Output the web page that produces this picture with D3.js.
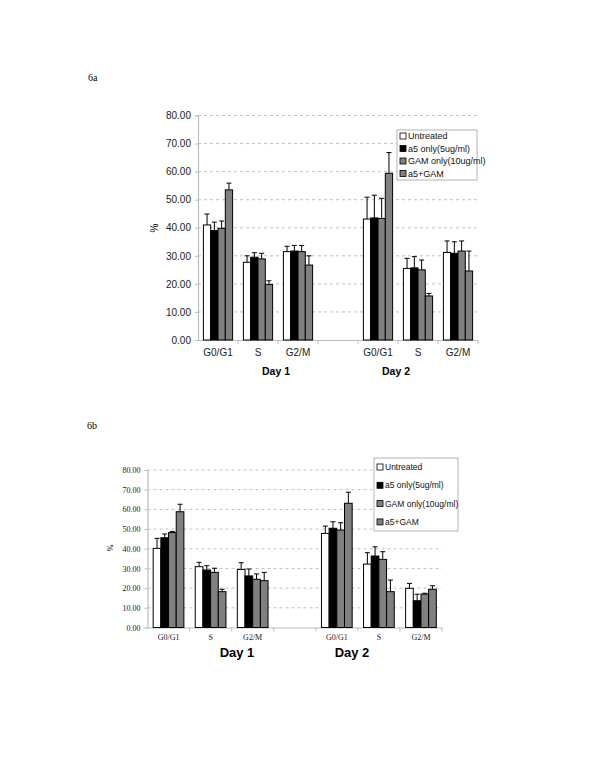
<!DOCTYPE html>
<html><head><meta charset="utf-8">
<script src="https://cdn.jsdelivr.net/npm/d3@7"></script>
<style>body{margin:0;background:#fff}svg{display:block}</style>
</head><body>
<svg id="c" width="600" height="776"></svg>
<script>
// ---- data ----
const slots = ["d1-G0/G1","d1-S","d1-G2/M","gap","d2-G0/G1","d2-S","d2-G2/M"];
const tickLabels = ["G0/G1","S","G2/M","","G0/G1","S","G2/M"];
const groups = ["d1-G0/G1","d1-S","d1-G2/M","d2-G0/G1","d2-S","d2-G2/M"];
const series = ["Untreated","a5 only(5ug/ml)","GAM only(10ug/ml)","a5+GAM"];
const dayLabels = ["Day 1","Day 2"];
const yTicks = [0,10,20,30,40,50,60,70,80];

// 6a
const a_untreated = [41.0, 27.7, 31.5, 43.1, 25.5, 31.2];
const a_untreatedErr = [3.9, 2.3, 1.9, 7.8, 3.6, 4.1];
const a_a5 = [39.0, 29.5, 31.7, 43.5, 25.7, 30.9];
const a_a5Err = [3.0, 1.6, 2.0, 8.1, 4.0, 4.1];
const a_gam = [39.8, 28.9, 31.5, 43.3, 25.0, 31.7];
const a_gamErr = [2.6, 2.0, 2.2, 7.2, 3.5, 3.6];
const a_combo = [53.5, 19.8, 26.7, 59.4, 15.7, 24.6];
const a_comboErr = [2.4, 1.3, 3.3, 7.4, 0.9, 7.1];

// 6b
const b_untreated = [40.2, 30.9, 29.5, 47.8, 32.2, 19.9];
const b_untreatedErr = [5.1, 2.2, 3.4, 3.7, 5.8, 2.5];
const b_a5 = [45.6, 29.2, 26.2, 50.4, 36.3, 13.6];
const b_a5Err = [1.9, 2.2, 3.5, 3.3, 4.7, 3.3];
const b_gam = [48.2, 28.0, 24.5, 49.5, 34.6, 17.0];
const b_gamErr = [0.6, 2.1, 2.7, 3.7, 3.9, 0.4];
const b_combo = [58.8, 18.2, 23.8, 63.1, 18.2, 19.4];
const b_comboErr = [3.8, 1.2, 4.2, 5.6, 5.9, 1.8];

const colors = ["#ffffff","#000000","#808080","#808080"];

const svg = d3.select("#c");
svg.append("rect").attr("width",600).attr("height",776).attr("fill","#fff");

function drawChart(o){
  const g = svg.append("g");
  const x = d3.scaleBand().domain(slots).range([o.x0,o.x1]).paddingInner(0).paddingOuter(0);
  const y = d3.scaleLinear().domain([0,80]).range([o.y0,o.y1]);
  const inner = d3.scaleBand().domain(series).range([0,x.bandwidth()*o.groupFrac]);
  const off = x.bandwidth()*(1-o.groupFrac)/2;

  // gridlines
  g.append("g").selectAll("line").data(yTicks.filter(t=>t>0)).join("line")
    .attr("x1",o.x0).attr("x2",o.x1).attr("y1",d=>y(d)).attr("y2",d=>y(d))
    .attr("stroke","#b0b0b0").attr("stroke-width",0.8).attr("stroke-dasharray","3,3");

  // y axis
  const ya = d3.axisLeft(y).tickValues(yTicks).tickFormat(d3.format(".2f")).tickSize(3).tickPadding(4);
  const yg = g.append("g").attr("transform",`translate(${o.x0},0)`).call(ya);
  yg.select(".domain").attr("stroke","#bdbdbd").attr("stroke-width",1.2);
  yg.selectAll(".tick line").attr("stroke","#bdbdbd");
  yg.selectAll("text").attr("font-family",o.tickFont).attr("font-size",o.tickSize).attr("fill","#222");

  // x axis
  const xa = d3.axisBottom(x).tickFormat((d,i)=>tickLabels[i]).tickSize(0).tickPadding(o.xPad);
  const xg = g.append("g").attr("transform",`translate(0,${o.y0})`).call(xa);
  xg.select(".domain").attr("stroke","#bdbdbd").attr("stroke-width",1.2);
  xg.selectAll("text").attr("font-family",o.xFont).attr("font-size",o.xSize).attr("fill","#222");
  // boundary tick marks
  g.append("g").selectAll("line").data(slots.slice(1).concat(["end"])).join("line")
    .attr("x1",(d,i)=>o.x0+x.bandwidth()*(i+1)).attr("x2",(d,i)=>o.x0+x.bandwidth()*(i+1))
    .attr("y1",o.y0).attr("y2",o.y0+4).attr("stroke","#bdbdbd");

  // bars
  const vals = o.vals, errs = o.errs;
  const data = [];
  groups.forEach((gr,gi)=>series.forEach((s,si)=>data.push({gr,s,si,v:vals[si][gi],e:errs[si][gi]})));
  const bx = d=>x(d.gr)+off+inner(d.s);
  const bars = g.append("g");
  // error bars behind
  const eb = g.append("g");
  data.forEach(d=>{
    const cx = bx(d)+inner.bandwidth()/2;
    eb.append("line").attr("x1",cx).attr("x2",cx).attr("y1",y(d.v)).attr("y2",y(d.v+d.e)).attr("stroke","#000").attr("stroke-width",1);
    eb.append("line").attr("x1",cx-2.5).attr("x2",cx+2.5).attr("y1",y(d.v+d.e)).attr("y2",y(d.v+d.e)).attr("stroke","#000").attr("stroke-width",1);
  });
  g.append("g").selectAll("rect").data(data).join("rect")
    .attr("x",bx).attr("width",inner.bandwidth()).attr("y",d=>y(d.v)).attr("height",d=>o.y0-y(d.v))
    .attr("fill",d=>colors[d.si]).attr("stroke","#000").attr("stroke-width",1);

  // y label
  g.append("text").attr("transform",`translate(${o.pctX},${o.pctY}) rotate(-90)`)
    .attr("text-anchor","middle").attr("font-family",o.tickFont).attr("font-size",o.tickSize).text("%");

  // day labels
  dayLabels.forEach((t,i)=>g.append("text").attr("x",o.dayX[i]).attr("y",o.dayY).attr("text-anchor","middle")
    .attr("font-family","Liberation Sans, Arial, sans-serif").attr("font-weight","bold").attr("font-size",o.daySize).text(t));

  // legend
  const L = o.legend;
  g.append("rect").attr("x",L.x).attr("y",L.y).attr("width",L.w).attr("height",L.h).attr("fill","#fff").attr("stroke","#a0a0a0").attr("stroke-width",0.8);
  series.forEach((s,i)=>{
    const yy = L.y + L.first + i*L.step;
    g.append("rect").attr("x",L.x+L.sx).attr("y",yy-L.sw/2).attr("width",L.sw).attr("height",L.sw).attr("fill",colors[i]).attr("stroke","#000").attr("stroke-width",0.8);
    g.append("text").attr("x",L.x+L.sx+L.sw+2).attr("y",yy).attr("dy","0.35em").attr("font-family","Liberation Sans, Arial, sans-serif").attr("font-size",L.fs).attr("fill","#111").text(s);
  });

  // panel label
  svg.append("text").attr("x",o.lab[0]).attr("y",o.lab[1]).attr("font-family","Liberation Serif, Times New Roman, serif").attr("font-size",10).text(o.name);
}

drawChart({
  name:"6a", lab:[88,81],
  x0:198, x1:478, y0:340, y1:115.5, groupFrac:0.73,
  tickFont:"Liberation Sans, Arial, sans-serif", tickSize:10,
  xFont:"Liberation Sans, Arial, sans-serif", xSize:10, xPad:9,
  vals:[a_untreated,a_a5,a_gam,a_combo], errs:[a_untreatedErr,a_a5Err,a_gamErr,a_comboErr],
  pctX:158, pctY:228, dayX:[276,396], dayY:375, daySize:10.5,
  legend:{x:397,y:130,w:80,h:50,first:6,step:12.5,sx:3,sw:6,fs:9}
});

drawChart({
  name:"6b", lab:[87,429],
  x0:147.5, x1:442, y0:627.5, y1:470, groupFrac:0.73,
  tickFont:"Liberation Serif, Times New Roman, serif", tickSize:8,
  xFont:"Liberation Serif, Times New Roman, serif", xSize:8, xPad:7,
  vals:[b_untreated,b_a5,b_gam,b_combo], errs:[b_untreatedErr,b_a5Err,b_gamErr,b_comboErr],
  pctX:113, pctY:548, dayX:[237,352], dayY:657, daySize:13,
  legend:{x:374,y:458,w:84,h:73,first:9,step:18.3,sx:3,sw:6,fs:8.5}
});
</script>
</body></html>
